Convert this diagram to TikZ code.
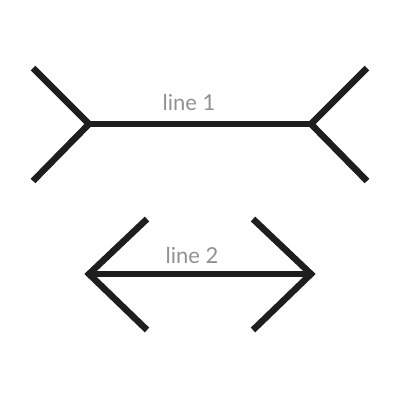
\documentclass[tikz,border=0pt]{standalone}
\usepackage{fontspec}
\setmainfont{Lato}
\definecolor{labelgray}{RGB}{145,145,145}
\definecolor{ink}{RGB}{30,30,30}
\begin{document}
\begin{tikzpicture}[x=1pt,y=-1pt,
  stroke/.style={draw=ink,line width=6.5pt,line join=miter},
  lbl/.style={text=labelgray,font=\fontsize{22}{22}\selectfont,inner sep=0pt}]
\useasboundingbox (0,0) rectangle (400,400);
% line 1
\coordinate (aL) at (89,124);
\coordinate (aR) at (311,124);
\coordinate (aL1) at (33,68);
\coordinate (aL2) at (33,181);
\coordinate (aR1) at (367,68);
\coordinate (aR2) at (367,181);
\draw[stroke] (aL1) -- (aL) -- (aL2);
\draw[stroke] (aR1) -- (aR) -- (aR2);
\draw[stroke] (aL) -- (aR);
\node[lbl] (l1) at (189,102) {line 1};
% line 2
\coordinate (bL) at (89,274);
\coordinate (bR) at (311,274);
\coordinate (bL1) at (147,219);
\coordinate (bL2) at (147,330);
\coordinate (bR1) at (253,219);
\coordinate (bR2) at (253,330);
\draw[stroke] (bL1) -- (bL) -- (bL2);
\draw[stroke] (bR1) -- (bR) -- (bR2);
\draw[stroke] (bL) -- (bR);
\node[lbl] (l2) at (192,255) {line 2};
\end{tikzpicture}
\end{document}
